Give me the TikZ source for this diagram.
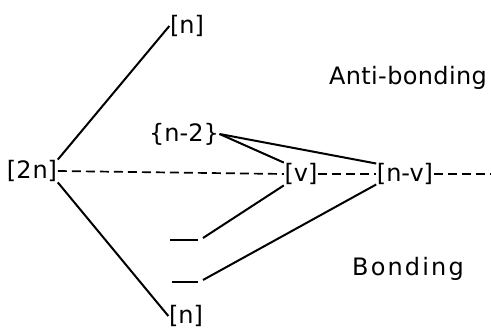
\documentclass[tikz,border=0pt]{standalone}
\usepackage{fontspec}
\setmainfont{DejaVu Sans}
\newfontfamily\antifont[LetterSpace=1.5]{DejaVu Sans}
\newfontfamily\bondfont[LetterSpace=9]{DejaVu Sans}
\begin{document}
\begin{tikzpicture}[x=1pt,y=-1pt,
  lbl/.style={inner sep=0.5pt, font=\fontsize{24}{26}\selectfont},
  txt/.style={inner sep=0pt, font=\fontsize{24}{26}\selectfont},
  conn/.style={line width=2pt},
  dashline/.style={line width=1.7pt, dash pattern=on 9pt off 5pt},
  level/.style={line width=2.6pt}]
\useasboundingbox (0,0) rectangle (491,329);
\node[lbl] (n2n) at (32,171) {[2\kern1pt n]};
\node[lbl] (topn) at (187,26) {[n]};
\node[lbl] (botn) at (186,316) {[n]};
\node[lbl] (nm2) at (184,134) {\{n-2\}};
\node[lbl] (v) at (301,174) {[v]};
\node[lbl] (nv) at (405,174) {[n-v]};
\coordinate (rend) at (491,174);
\node[txt] (anti) at (408,78) {\antifont Anti-bonding};
\node[txt] (bond) at (408,269) {\bondfont Bonding};
% bonding levels
\coordinate (b1l) at (170,240);
\coordinate (b1r) at (198,240);
\coordinate (b1c) at (203,238);
\coordinate (b2l) at (172,282);
\coordinate (b2r) at (198,282);
\coordinate (b2c) at (203,280);
\draw[level] (b1l) -- (b1r);
\draw[level] (b2l) -- (b2r);
% connectors
\draw[conn] (n2n.north east) -- (topn.west);
\draw[conn] (n2n.south east) -- (botn.west);
\draw[conn] (nm2.east) -- (v.north west);
\draw[conn] (nm2.east) -- (nv.160);
\draw[conn] (b1c) -- (v.south west);
\draw[conn] (b2c) -- (nv.200);
\draw[dashline] (n2n.east) -- (v.west);
\draw[dashline] (v.east) -- (nv.west);
\draw[dashline] (nv.east) -- (rend);
\end{tikzpicture}
\end{document}
